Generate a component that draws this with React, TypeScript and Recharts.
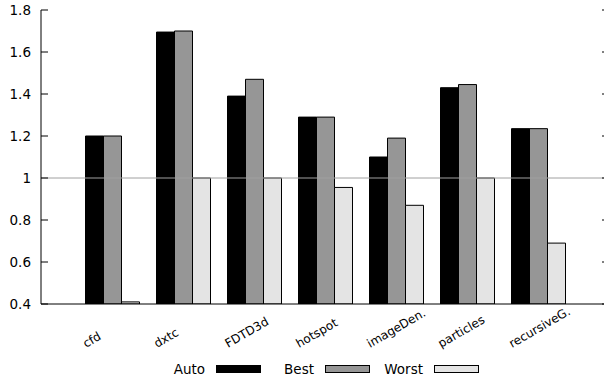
import React from 'react';
import { BarChart, Bar, XAxis, YAxis, ReferenceLine, Legend } from 'recharts';

const CATEGORIES = ['cfd', 'dxtc', 'FDTD3d', 'hotspot', 'imageDen.', 'particles', 'recursiveG.'];
const AUTO = [1.2, 1.695, 1.39, 1.29, 1.1, 1.43, 1.235];
const BEST = [1.2, 1.7, 1.47, 1.29, 1.19, 1.445, 1.235];
const WORST = [0.41, 1.0, 1.0, 0.955, 0.87, 1.0, 0.69];
const Y_TICKS = [0.4, 0.6, 0.8, 1, 1.2, 1.4, 1.6, 1.8];

const SERIES = [
  { key: 'auto', name: 'Auto', color: '#000000' },
  { key: 'best', name: 'Best', color: '#969696' },
  { key: 'worst', name: 'Worst', color: '#e4e4e4' },
];

const FONT = '"DejaVu Sans", sans-serif';

const data = CATEGORIES.map((name, i) => ({
  name,
  auto: AUTO[i],
  best: BEST[i],
  worst: WORST[i],
}));

// left axis: label outside, tick mark pointing inward
const LeftTick = (props: any) => {
  const { x, y, payload } = props;
  return (
    <g>
      <line x1={x + 10} x2={x + 17} y1={y} y2={y} stroke="#000" />
      <text x={x} y={y} dy={5} textAnchor="end" fontSize={13.5} fontFamily={FONT} fill="#000">
        {payload.value}
      </text>
    </g>
  );
};

const RightTick = (props: any) => {
  const { x, y } = props;
  return <line x1={x - 7} x2={x} y1={y} y2={y} stroke="#000" />;
};

const TopTick = (props: any) => {
  const { x, y } = props;
  return <line x1={x} x2={x} y1={y} y2={y + 7} stroke="#000" />;
};

const BottomTick = (props: any) => {
  const { x, y, payload } = props;
  const tx = x - 26;
  const ty = y + 44;
  return (
    <text
      x={tx}
      y={ty}
      textAnchor="start"
      transform={`rotate(-30, ${tx}, ${ty})`}
      fontSize={12}
      fontFamily={FONT}
      fill="#000"
    >
      {payload.value}
    </text>
  );
};

const LegendContent = () => (
  <div style={{ display: 'flex', alignItems: 'center', height: 30, fontFamily: FONT, fontSize: 13.5 }}>
    {SERIES.map(s => (
      <div key={s.key} style={{ display: 'flex', alignItems: 'center', width: 109 }}>
        <span style={{ width: 53, textAlign: 'right', color: '#000' }}>{s.name}</span>
        <span
          style={{
            marginLeft: 11,
            width: 45,
            height: 8,
            boxSizing: 'border-box',
            background: s.color,
            border: '1px solid #000',
          }}
        />
      </div>
    ))}
  </div>
);

export default function App() {
  return (
    <div style={{ width: 604, height: 384, overflow: 'hidden', position: 'relative', background: '#fff' }}>
      <style>{'body{margin:0}'}</style>
      <BarChart
        width={612}
        height={384}
        data={data}
        margin={{ top: 10, right: 0, left: 0, bottom: 0 }}
        barSize={18}
        barGap={0}
      >
        <XAxis
          xAxisId="b"
          dataKey="name"
          interval={0}
          height={50}
          padding={{ left: 35.5, right: 35.5 }}
          axisLine={{ stroke: '#000' }}
          tickLine={false}
          tickSize={0}
          tickMargin={0}
          tick={<BottomTick />}
        />
        <XAxis
          xAxisId="t"
          orientation="top"
          dataKey="name"
          interval={0}
          height={0}
          padding={{ left: 35.5, right: 35.5 }}
          axisLine={{ stroke: '#000' }}
          tickLine={false}
          tickSize={0}
          tickMargin={0}
          tick={<TopTick />}
        />
        <YAxis
          yAxisId="l"
          width={41}
          domain={[0.4, 1.8]}
          ticks={Y_TICKS}
          allowDataOverflow
          axisLine={{ stroke: '#000' }}
          tickLine={false}
          tickSize={0}
          tickMargin={10}
          tick={<LeftTick />}
        />
        <YAxis
          yAxisId="r"
          orientation="right"
          width={3}
          domain={[0.4, 1.8]}
          ticks={Y_TICKS}
          allowDataOverflow
          axisLine={{ stroke: '#000' }}
          tickLine={false}
          tickSize={0}
          tickMargin={0}
          tick={<RightTick />}
        />
        {SERIES.map(s => (
          <Bar
            key={s.key}
            dataKey={s.key}
            name={s.name}
            xAxisId="b"
            yAxisId="l"
            fill={s.color}
            stroke="#000"
            strokeWidth={1}
            isAnimationActive={false}
          />
        ))}
        <ReferenceLine xAxisId="b" yAxisId="l" y={1} stroke="#a0a0a0" strokeWidth={1} />
        <Legend
          verticalAlign="bottom"
          height={30}
          content={<LegendContent />}
          wrapperStyle={{ left: 152, width: 340 }}
        />
      </BarChart>
    </div>
  );
}
